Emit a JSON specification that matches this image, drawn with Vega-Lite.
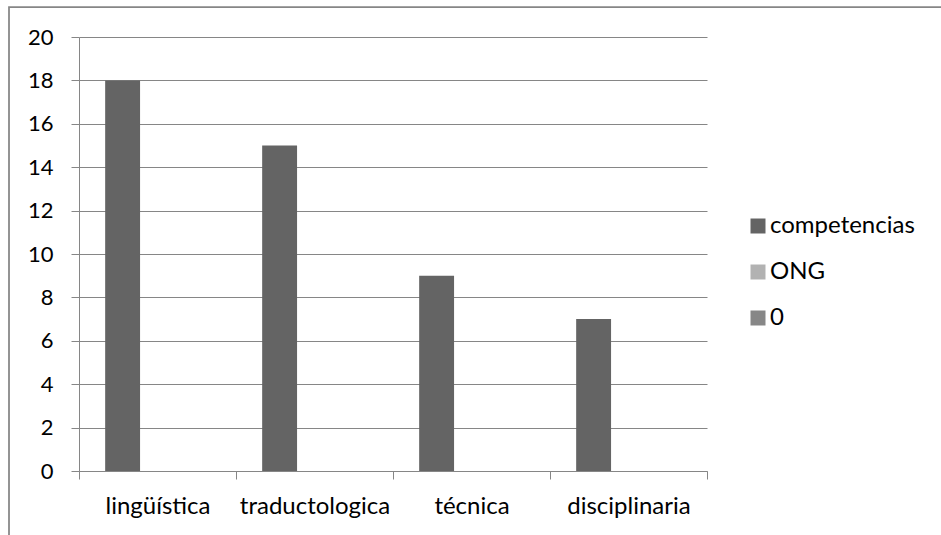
{
  "$schema": "https://vega.github.io/schema/vega-lite/v6.json",
  "width": 940,
  "height": 540,
  "autosize": "none",
  "padding": {"left": 9, "top": 7, "right": -8, "bottom": -12},
  "background": "white",
  "config": {
    "font": "Lato",
    "view": {"stroke": "#868686", "strokeWidth": 1.75},
    "axis": {
      "labelFont": "Lato",
      "labelFontSize": 22,
      "labelColor": "#000000",
      "domainColor": "#868686",
      "domainWidth": 1,
      "tickColor": "#868686",
      "tickWidth": 1,
      "gridColor": "#868686",
      "gridWidth": 1,
      "title": null
    }
  },
  "data": {
    "values": [
      {"categoria": "lingüística", "serie": "competencias", "valor": 18},
      {"categoria": "traductologica", "serie": "competencias", "valor": 15},
      {"categoria": "técnica", "serie": "competencias", "valor": 9},
      {"categoria": "disciplinaria", "serie": "competencias", "valor": 7}
    ]
  },
  "mark": {"type": "bar"},
  "encoding": {
    "x": {
      "field": "categoria",
      "type": "nominal",
      "sort": null,
      "scale": {"range": [70, 698], "paddingInner": 0, "paddingOuter": 0},
      "axis": {
        "orient": "bottom",
        "offset": -76,
        "tickBand": "extent",
        "labelAngle": 0,
        "labelFontSize": 24,
        "tickSize": 8,
        "labelPadding": 15,
        "grid": false
      }
    },
    "xOffset": {
      "field": "serie",
      "type": "nominal",
      "scale": {"domain": ["competencias", "ONG", "0"], "paddingInner": 0, "paddingOuter": 0.75}
    },
    "y": {
      "field": "valor",
      "type": "quantitative",
      "scale": {"domain": [0, 20], "range": [464, 30], "nice": false},
      "axis": {
        "orient": "left",
        "offset": -70,
        "values": [0, 2, 4, 6, 8, 10, 12, 14, 16, 18, 20],
        "grid": true,
        "tickSize": 8,
        "labelPadding": 18
      }
    },
    "color": {
      "field": "serie",
      "type": "nominal",
      "scale": {"domain": ["competencias", "ONG", "0"], "range": ["#646464", "#b2b2b2", "#878787"]},
      "legend": {
        "orient": "none",
        "legendX": 737,
        "legendY": 207,
        "title": null,
        "padding": 0,
        "symbolType": "square",
        "symbolSize": 225,
        "symbolStrokeWidth": 0,
        "labelFont": "Lato",
        "labelFontSize": 24,
        "labelColor": "#000000",
        "labelOffset": 0,
        "rowPadding": 22
      }
    }
  }
}
